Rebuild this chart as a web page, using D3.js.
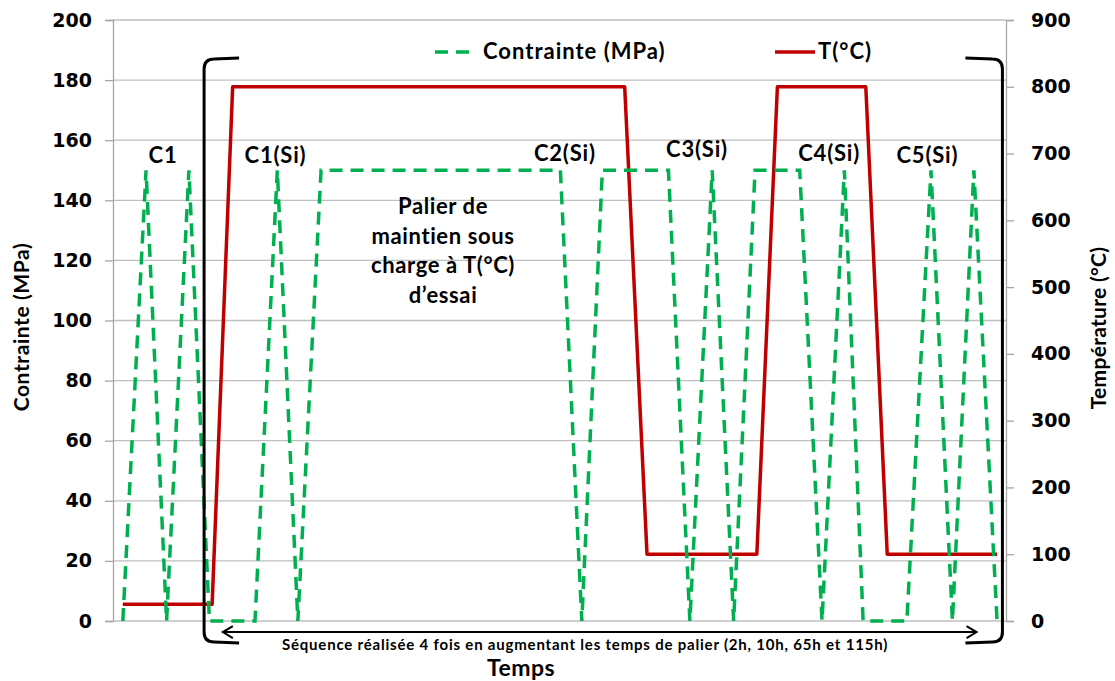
<!DOCTYPE html>
<html lang="fr">
<head>
	<meta charset="UTF-8">
	<title>Contrainte et température</title>
	<script src="https://cdn.jsdelivr.net/npm/d3@7"></script>
	<style>
		body { margin: 0; background: #fff; }
		text { fill: #000; }
	</style>
</head>
<body>
	<div id="vis"></div>

	<script>
		var width = 1115;
		var height = 681;

		// series : temps (unités arbitraires 0-100), contrainte en MPa
		var stressTime = [1.1, 3.7, 6.0, 8.5, 10.8, 15.9, 18.4, 20.7, 23.3, 50.1, 52.5, 54.8, 62.2,
			64.6, 67.1, 69.5, 71.9, 76.9, 79.4, 81.9, 84.0, 88.9, 91.6, 94.0, 96.4, 99.0];
		var stressValue = [0, 150, 0, 150, 0, 0, 150, 0, 150, 150, 0, 150, 150,
			0, 150, 0, 150, 150, 0, 150, 0, 0, 150, 0, 150, 0];

		// température en °C
		var tempTime = [1.1, 11.1, 13.4, 57.3, 59.8, 72.1, 74.4, 84.3, 86.7, 99.0];
		var tempValue = [25, 25, 800, 800, 100, 100, 800, 800, 100, 100];

		var leftTicks = [0, 20, 40, 60, 80, 100, 120, 140, 160, 180, 200];
		var rightTicks = [0, 100, 200, 300, 400, 500, 600, 700, 800, 900];

		// étiquettes des cycles : position temps, contrainte
		var cycleLabels = ["C1", "C1(Si)", "C2(Si)", "C3(Si)", "C4(Si)", "C5(Si)"];
		var cycleX = [5.6, 18.2, 50.6, 65.4, 80.2, 91.2];
		var cycleY = [152.5, 152.5, 153, 154.5, 153, 152.5];

		var palierLines = ["Palier de", "maintien sous", "charge à T(°C)", "d\u2019essai"];

		var margin = {top: 20, right: 109, bottom: 60, left: 113};

		var svg = d3.select("#vis").append("svg")
				.attr("width", width)
				.attr("height", height);

		var x = d3.scaleLinear().domain([0, 100]).range([margin.left, width - margin.right]);
		var yL = d3.scaleLinear().domain([0, 200]).range([height - margin.bottom, margin.top]);
		var yR = d3.scaleLinear().domain([0, 900]).range([height - margin.bottom, margin.top]);

		var x0 = x.range()[0], x1 = x.range()[1];

		// grille horizontale
		svg.append("g").selectAll("line")
			.data(leftTicks)
			.enter().append("line")
			.attr("x1", x0).attr("x2", x1)
			.attr("y1", d => yL(d)).attr("y2", d => yL(d))
			.attr("stroke", "#bfbfbf")
			.attr("stroke-width", 1.3);

		var tickFont = "'DejaVu Sans', Verdana, sans-serif";

		// axe gauche
		var axL = svg.append("g")
			.attr("transform", "translate(" + x0 + ",0)")
			.call(d3.axisLeft(yL).tickValues(leftTicks).tickSize(8).tickPadding(13));
		// axe droit
		var axR = svg.append("g")
			.attr("transform", "translate(" + x1 + ",0)")
			.call(d3.axisRight(yR).tickValues(rightTicks).tickSize(8).tickPadding(17));

		[axL, axR].forEach(function(ax) {
			ax.select(".domain").attr("stroke", "#a6a6a6").attr("stroke-width", 1.3);
			ax.selectAll(".tick line").attr("stroke", "#a6a6a6").attr("stroke-width", 1.3);
			ax.selectAll(".tick text")
				.attr("fill", "#000")
				.style("font-family", tickFont)
				.style("font-weight", "bold")
				.style("font-size", "19px");
		});

		var labelFont = "Lato, 'Open Sans', sans-serif";

		// style commun des textes (Calibri-like)
		function label(sel, size, weight, spacing) {
			return sel.style("font-family", labelFont)
				.style("font-weight", weight)
				.style("font-size", size + "px")
				.style("letter-spacing", spacing + "px");
		}

		// titres des axes
		label(svg.append("text")
			.attr("transform", "translate(29,327) rotate(-90)")
			.attr("text-anchor", "middle"), 21, "bold", 0.6)
			.text("Contrainte (MPa)");

		label(svg.append("text")
			.attr("transform", "translate(1106,328) rotate(-90)")
			.attr("text-anchor", "middle"), 21, "bold", 0.3)
			.text("Température (°C)");

		label(svg.append("text")
			.attr("x", 521)
			.attr("y", 676)
			.attr("text-anchor", "middle"), 23, "bold", 0.5)
			.text("Temps");

		// courbes
		var stressData = d3.zip(stressTime, stressValue);
		var tempData = d3.zip(tempTime, tempValue);

		svg.append("path")
			.datum(tempData)
			.attr("fill", "none")
			.attr("stroke", "#c00000")
			.attr("stroke-width", 3.5)
			.attr("stroke-linejoin", "round")
			.attr("d", d3.line().x(d => x(d[0])).y(d => yR(d[1])));

		svg.append("path")
			.datum(stressData)
			.attr("fill", "none")
			.attr("stroke", "#00b050")
			.attr("stroke-width", 3.5)
			.attr("stroke-dasharray", "13,8")
			.attr("d", d3.line().x(d => x(d[0])).y(d => yL(d[1])));

		// crochets de la séquence
		var bTop = yL(187), bBot = yL(-7);
		var bl = x(10.2), br = x(99.6);
		var r = 10;
		svg.append("path")
			.attr("fill", "none")
			.attr("stroke", "#000")
			.attr("stroke-width", 3)
			.attr("d", "M" + (bl + 35) + "," + (bTop - 1) + " L" + (bl + r) + "," + bTop +
				" Q" + bl + "," + bTop + " " + bl + "," + (bTop + r) +
				" L" + bl + "," + (bBot - r) +
				" Q" + bl + "," + bBot + " " + (bl + r) + "," + bBot +
				" L" + (bl + 35) + "," + (bBot + 1));
		svg.append("path")
			.attr("fill", "none")
			.attr("stroke", "#000")
			.attr("stroke-width", 3)
			.attr("d", "M" + (br - 37) + "," + (bTop - 1) + " L" + (br - r) + "," + bTop +
				" Q" + br + "," + bTop + " " + br + "," + (bTop + r) +
				" L" + br + "," + (bBot - r) +
				" Q" + br + "," + bBot + " " + (br - r) + "," + bBot +
				" L" + (br - 37) + "," + (bBot + 1));

		// flèche double
		var ay = yL(-3.7);
		var ax0 = x(12.3), ax1 = x(96.7);
		var arrow = svg.append("g")
			.attr("fill", "none")
			.attr("stroke", "#000")
			.attr("stroke-width", 2);
		arrow.append("line").attr("x1", ax0).attr("x2", ax1).attr("y1", ay).attr("y2", ay);
		arrow.append("path").attr("d", "M" + (ax0 + 10) + "," + (ay - 6) + " L" + ax0 + "," + ay + " L" + (ax0 + 10) + "," + (ay + 6));
		arrow.append("path").attr("d", "M" + (ax1 - 10) + "," + (ay - 6) + " L" + ax1 + "," + ay + " L" + (ax1 - 10) + "," + (ay + 6));

		label(svg.append("text")
			.attr("x", 585)
			.attr("y", 650)
			.attr("text-anchor", "middle"), 15, "bold", 0.8)
			.text("Séquence réalisée 4 fois en augmentant les temps de palier (2h, 10h, 65h et 115h)");

		// étiquettes des cycles
		label(svg.append("g").selectAll("text")
			.data(cycleLabels)
			.enter().append("text")
			.attr("x", (d, i) => x(cycleX[i]))
			.attr("y", (d, i) => yL(cycleY[i]))
			.attr("text-anchor", "middle"), 22, "bold", 0.8)
			.text(d => d);

		// texte du palier
		label(svg.append("g").selectAll("text")
			.data(palierLines)
			.enter().append("text")
			.attr("x", 443)
			.attr("y", (d, i) => 214 + i * 29.5)
			.attr("text-anchor", "middle"), 22, "bold", 0.6)
			.text(d => d);

		// légende
		var leg = svg.append("g");
		leg.append("line")
			.attr("x1", 435).attr("x2", 477).attr("y1", 52).attr("y2", 52)
			.attr("stroke", "#00b050").attr("stroke-width", 3.5)
			.attr("stroke-dasharray", "13,8");
		label(leg.append("text")
			.attr("x", 483).attr("y", 59), 22, "bold", 1)
			.text("Contrainte (MPa)");
		leg.append("line")
			.attr("x1", 775).attr("x2", 815).attr("y1", 52).attr("y2", 52)
			.attr("stroke", "#c00000").attr("stroke-width", 3.5);
		label(leg.append("text")
			.attr("x", 818).attr("y", 59), 22, "bold", 1)
			.text("T(°C)");
	</script>
</body>
</html>
